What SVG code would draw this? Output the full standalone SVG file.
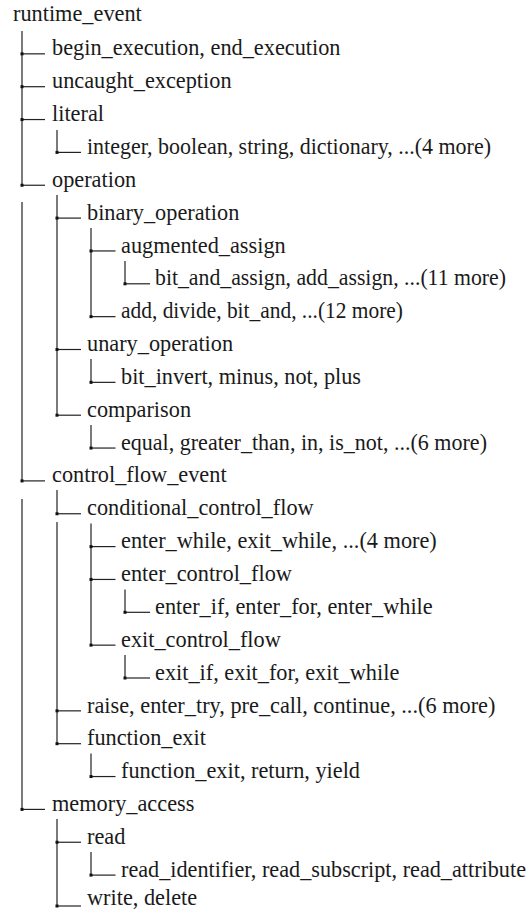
<svg xmlns="http://www.w3.org/2000/svg" width="532" height="910" viewBox="0 0 532 910">
<style>
text{font-family:"Liberation Serif","Times New Roman",serif;font-size:22.3px;fill:#1a1a1a}
.c line{stroke:#222;stroke-width:1.2}
.c rect{fill:#111}
</style>
<rect width="532" height="910" fill="#fff"/>
<g id="connectors" class="c">
<line x1="22" y1="31" x2="22" y2="185.25"/>
<line x1="22" y1="202" x2="22" y2="480.9"/>
<line x1="22" y1="499" x2="22" y2="809.4"/>
<line x1="57" y1="130" x2="57" y2="152.4"/>
<line x1="57" y1="195" x2="57" y2="415.2"/>
<line x1="57" y1="490" x2="57" y2="513.75"/>
<line x1="57" y1="522" x2="57" y2="743.7"/>
<line x1="57" y1="819" x2="57" y2="906"/>
<line x1="91" y1="228" x2="91" y2="316.65"/>
<line x1="91" y1="359" x2="91" y2="382.35"/>
<line x1="91" y1="425" x2="91" y2="448.05"/>
<line x1="91" y1="523.5" x2="91" y2="645.15"/>
<line x1="91" y1="753.5" x2="91" y2="776.55"/>
<line x1="91" y1="852" x2="91" y2="875.1"/>
<line x1="125" y1="261" x2="125" y2="283.8"/>
<line x1="125" y1="589.5" x2="125" y2="612.3"/>
<line x1="125" y1="655" x2="125" y2="678"/>
<line x1="22" y1="53.85" x2="45" y2="53.85"/>
<line x1="22" y1="86.7" x2="45" y2="86.7"/>
<line x1="22" y1="119.55" x2="45" y2="119.55"/>
<line x1="22" y1="185.25" x2="45" y2="185.25"/>
<line x1="22" y1="480.9" x2="45" y2="480.9"/>
<line x1="22" y1="809.4" x2="45" y2="809.4"/>
<line x1="57" y1="152.4" x2="81" y2="152.4"/>
<line x1="57" y1="218.1" x2="81" y2="218.1"/>
<line x1="57" y1="349.5" x2="81" y2="349.5"/>
<line x1="57" y1="415.2" x2="81" y2="415.2"/>
<line x1="57" y1="513.75" x2="81" y2="513.75"/>
<line x1="57" y1="710.85" x2="81" y2="710.85"/>
<line x1="57" y1="743.7" x2="81" y2="743.7"/>
<line x1="57" y1="842.25" x2="81" y2="842.25"/>
<line x1="57" y1="906" x2="81" y2="906"/>
<line x1="91" y1="250.95" x2="115.5" y2="250.95"/>
<line x1="91" y1="316.65" x2="115.5" y2="316.65"/>
<line x1="91" y1="382.35" x2="115.5" y2="382.35"/>
<line x1="91" y1="448.05" x2="115.5" y2="448.05"/>
<line x1="91" y1="546.6" x2="115.5" y2="546.6"/>
<line x1="91" y1="579.45" x2="115.5" y2="579.45"/>
<line x1="91" y1="645.15" x2="115.5" y2="645.15"/>
<line x1="91" y1="776.55" x2="115.5" y2="776.55"/>
<line x1="91" y1="875.1" x2="115.5" y2="875.1"/>
<line x1="125" y1="283.8" x2="150" y2="283.8"/>
<line x1="125" y1="612.3" x2="150" y2="612.3"/>
<line x1="125" y1="678" x2="150" y2="678"/>
<rect x="20.5" y="52.35" width="3" height="3"/>
<rect x="20.5" y="85.2" width="3" height="3"/>
<rect x="20.5" y="118.05" width="3" height="3"/>
<rect x="20.5" y="183.75" width="3" height="3"/>
<rect x="20.5" y="479.4" width="3" height="3"/>
<rect x="20.5" y="807.9" width="3" height="3"/>
<rect x="55.5" y="150.9" width="3" height="3"/>
<rect x="55.5" y="216.6" width="3" height="3"/>
<rect x="55.5" y="348" width="3" height="3"/>
<rect x="55.5" y="413.7" width="3" height="3"/>
<rect x="55.5" y="512.25" width="3" height="3"/>
<rect x="55.5" y="709.35" width="3" height="3"/>
<rect x="55.5" y="742.2" width="3" height="3"/>
<rect x="55.5" y="840.75" width="3" height="3"/>
<rect x="55.5" y="904.5" width="3" height="3"/>
<rect x="89.5" y="249.45" width="3" height="3"/>
<rect x="89.5" y="315.15" width="3" height="3"/>
<rect x="89.5" y="380.85" width="3" height="3"/>
<rect x="89.5" y="446.55" width="3" height="3"/>
<rect x="89.5" y="545.1" width="3" height="3"/>
<rect x="89.5" y="577.95" width="3" height="3"/>
<rect x="89.5" y="643.65" width="3" height="3"/>
<rect x="89.5" y="775.05" width="3" height="3"/>
<rect x="89.5" y="873.6" width="3" height="3"/>
<rect x="123.5" y="282.3" width="3" height="3"/>
<rect x="123.5" y="610.8" width="3" height="3"/>
<rect x="123.5" y="676.5" width="3" height="3"/>
</g>
<g id="n0"><text x="13" y="21">runtime_event</text></g>
<g id="n1"><text x="52" y="55">begin_execution, end_execution</text></g>
<g id="n2"><text x="52" y="88">uncaught_exception</text></g>
<g id="n3"><text x="52" y="121">literal</text></g>
<g id="n4"><text x="87" y="154" textLength="404" lengthAdjust="spacingAndGlyphs">integer, boolean, string, dictionary, ...(4 more)</text></g>
<g id="n5"><text x="52" y="186.5">operation</text></g>
<g id="n6"><text x="87" y="219.5">binary_operation</text></g>
<g id="n7"><text x="121" y="252.5">augmented_assign</text></g>
<g id="n8"><text x="155" y="285" textLength="351" lengthAdjust="spacingAndGlyphs">bit_and_assign, add_assign, ...(11 more)</text></g>
<g id="n9"><text x="121" y="318" textLength="282" lengthAdjust="spacingAndGlyphs">add, divide, bit_and, ...(12 more)</text></g>
<g id="n10"><text x="87" y="351">unary_operation</text></g>
<g id="n11"><text x="121" y="384" textLength="240" lengthAdjust="spacingAndGlyphs">bit_invert, minus, not, plus</text></g>
<g id="n12"><text x="87" y="416.5">comparison</text></g>
<g id="n13"><text x="121" y="449.5" textLength="366" lengthAdjust="spacingAndGlyphs">equal, greater_than, in, is_not, ...(6 more)</text></g>
<g id="n14"><text x="52" y="482">control_flow_event</text></g>
<g id="n15"><text x="87" y="515">conditional_control_flow</text></g>
<g id="n16"><text x="121" y="548">enter_while, exit_while, ...(4 more)</text></g>
<g id="n17"><text x="121" y="581">enter_control_flow</text></g>
<g id="n18"><text x="155" y="613.5">enter_if, enter_for, enter_while</text></g>
<g id="n19"><text x="121" y="646.5">exit_control_flow</text></g>
<g id="n20"><text x="155" y="679.5">exit_if, exit_for, exit_while</text></g>
<g id="n21"><text x="87" y="712.5">raise, enter_try, pre_call, continue, ...(6 more)</text></g>
<g id="n22"><text x="87" y="745">function_exit</text></g>
<g id="n23"><text x="121" y="778">function_exit, return, yield</text></g>
<g id="n24"><text x="52" y="811">memory_access</text></g>
<g id="n25"><text x="87" y="843.5">read</text></g>
<g id="n26"><text x="121" y="876.5" textLength="405" lengthAdjust="spacingAndGlyphs">read_identifier, read_subscript, read_attribute</text></g>
<g id="n27"><text x="87" y="905">write, delete</text></g>
</svg>
